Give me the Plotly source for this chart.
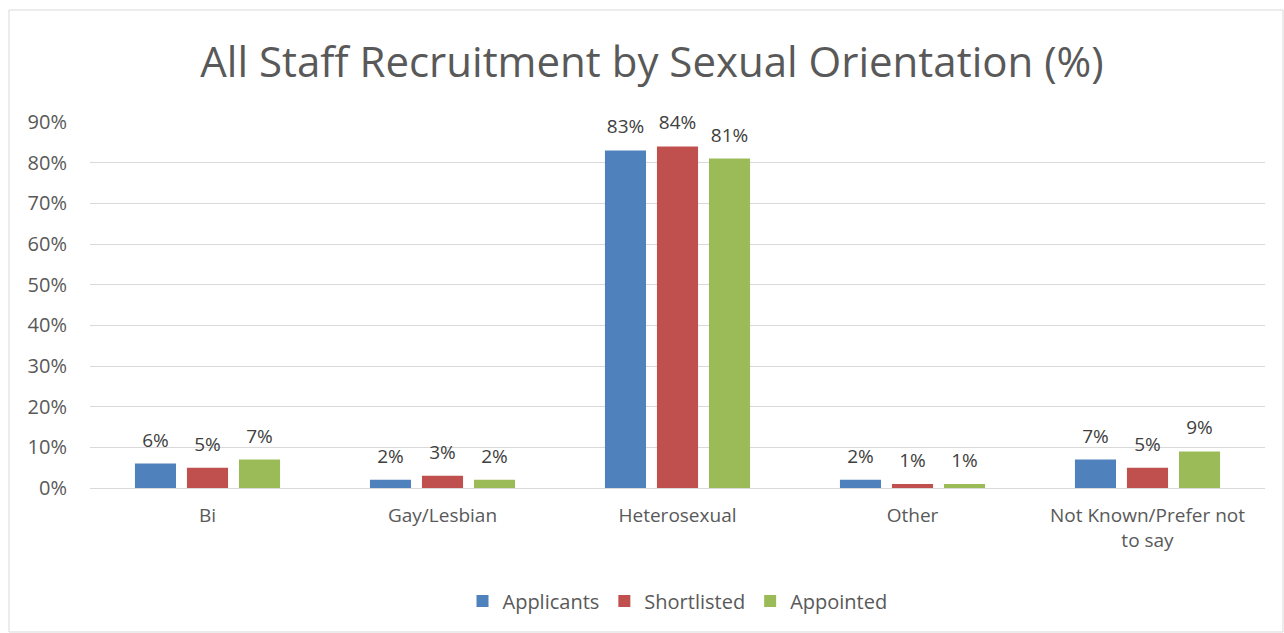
import plotly.graph_objects as go

categories = ["Bi", "Gay/Lesbian", "Heterosexual", "Other", "Not Known/Prefer not<br>to say"]
applicants = [0.06, 0.02, 0.83, 0.02, 0.07]
shortlisted = [0.05, 0.03, 0.84, 0.01, 0.05]
appointed = [0.07, 0.02, 0.81, 0.01, 0.09]
series_names = ["Applicants", "Shortlisted", "Appointed"]
colors = ["#4F81BD", "#C0504D", "#9BBB59"]
y_ticks = [0, 0.1, 0.2, 0.3, 0.4, 0.5, 0.6, 0.7, 0.8, 0.9]

FONT = "Open Sans"
fig = go.Figure()
for i, (name, vals, col) in enumerate(zip(series_names, [applicants, shortlisted, appointed], colors)):
    fig.add_trace(go.Bar(
        x=categories, y=vals, name=name, marker=dict(color=col, line=dict(width=0)),
        offsetgroup=str(i), alignmentgroup="a",
    ))
for i, vals in enumerate([applicants, shortlisted, appointed]):
    fig.add_trace(go.Scatter(
        x=categories, y=vals, mode="markers+text", showlegend=False, hoverinfo="skip",
        marker=dict(size=18, opacity=0), offsetgroup=str(i), alignmentgroup="a",
        text=[f"{round(v * 100)}%" for v in vals], textposition="top center", cliponaxis=False,
        textfont=dict(family=FONT, size=19, color="#404040"),
    ))

W, H = 1284, 633
L, R, T, B = 90, 19, 122, 145
pw, ph = W - L - R, H - T - B

fig.update_layout(
    width=W, height=H,
    margin=dict(l=L, r=R, t=T, b=B),
    paper_bgcolor="white", plot_bgcolor="white",
    barmode="group", bargap=0.336, bargroupgap=0.21,
    scattermode="group", scattergap=0.336,
    title=dict(text="All Staff Recruitment by Sexual Orientation (%)",
               x=652 / W, xanchor="center", xref="container", y=1 - 62 / H, yref="container", yanchor="middle",
               font=dict(family=FONT, size=42, color="#595959")),
    showlegend=True,
    legend=dict(orientation="h", x=0.5, xanchor="center", y=(T + ph - 601) / ph, yanchor="middle",
                font=dict(family=FONT, size=20, color="#595959"), itemwidth=30, traceorder="normal"),
    xaxis=dict(showgrid=False, showline=False, ticks="", ticklabelstandoff=14,
               tickfont=dict(family=FONT, size=19, color="#595959")),
    yaxis=dict(range=[0, 0.9], tickvals=y_ticks, tickformat=".0%", showgrid=True, gridcolor="#D9D9D9",
               gridwidth=1, zeroline=True, zerolinecolor="#D9D9D9", zerolinewidth=1, ticks="",
               ticklabelstandoff=22,
               tickfont=dict(family=FONT, size=20, color="#595959")),
    shapes=[dict(type="rect", xref="paper", yref="paper",
                 x0=(9 - L) / pw, x1=(1283 - L) / pw,
                 y0=(T + ph - 632) / ph, y1=(T + ph - 10) / ph,
                 line=dict(color="#D9D9D9", width=1), fillcolor="rgba(0,0,0,0)", layer="below")],
)

fig.write_html("out.html")
